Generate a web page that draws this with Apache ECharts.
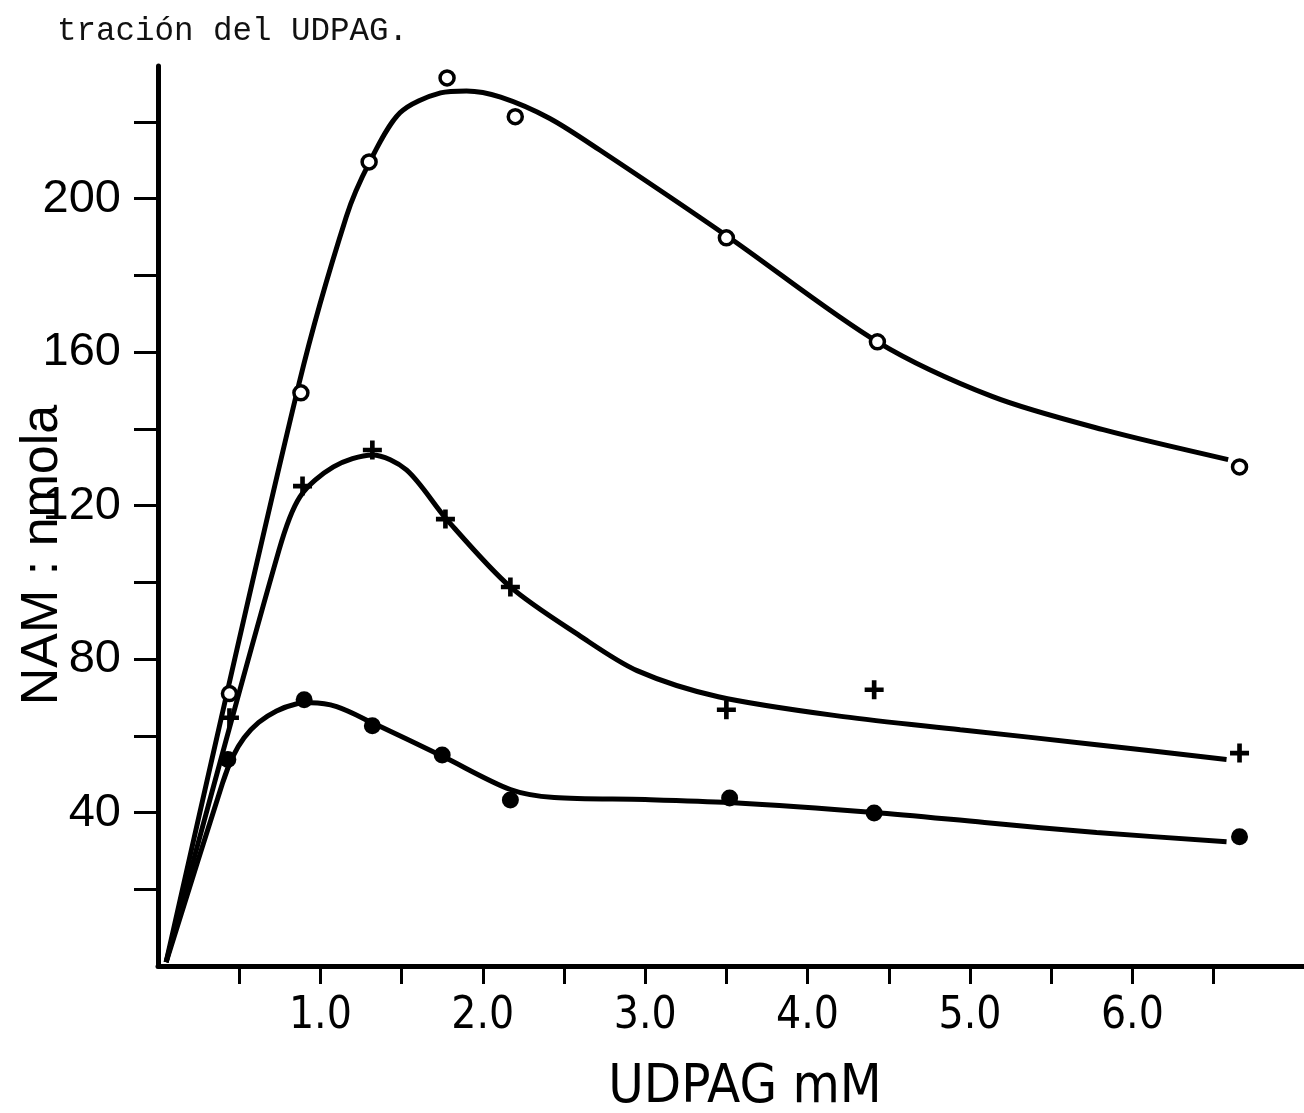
<!DOCTYPE html>
<html>
<head>
<meta charset="utf-8">
<script src="https://cdn.jsdelivr.net/npm/echarts@6/dist/echarts.min.js"></script>
<style>
html,body{margin:0;padding:0;background:#fff;}
#c{width:1304px;height:1113px;}
</style>
</head>
<body>
<div id="c"></div>
<script>
// ---- data ----
const headerText = 'tración del UDPAG.';
const xTitle = 'UDPAG mM';
const yTitle = 'NAM : nmola';
const xTickValues = [0.5, 1, 1.5, 2, 2.5, 3, 3.5, 4, 4.5, 5, 5.5, 6, 6.5];
const xLabelValues = [1, 2, 3, 4, 5, 6];
const yTickValues = [20, 40, 60, 80, 100, 120, 140, 160, 180, 200, 220];
const yLabelValues = [40, 80, 120, 160, 200];

// measured points
const openX = [0.44, 0.88, 1.30, 1.78, 2.20, 3.50, 4.43, 6.66];
const openY = [71.0, 149.4, 209.6, 231.5, 221.4, 189.8, 162.7, 130.1];
const plusX = [0.44, 0.89, 1.32, 1.77, 2.17, 3.50, 4.41, 6.66];
const plusY = [64.7, 125.1, 134.5, 116.5, 98.8, 66.8, 72.0, 55.5];
const dotX  = [0.43, 0.90, 1.32, 1.75, 2.17, 3.52, 4.41, 6.66];
const dotY  = [53.8, 69.4, 62.6, 55.0, 43.3, 43.8, 39.9, 33.7];

// fitted (hand-drawn) curves, read along their path
const topCurveX = [0.05, 0.87, 1.16, 1.30, 1.49, 1.74, 1.90, 2.11, 2.41, 2.72, 3.51, 4.43, 5.14, 5.82, 6.59];
const topCurveY = [1, 152.1, 195.4, 209.3, 222.4, 227.6, 228.1, 226.5, 221.0, 212.7, 190.1, 162.7, 148.4, 139.8, 132.0];
const plusCurveX = [0.05, 0.745, 0.874, 1.08, 1.32, 1.53, 1.78, 2.17, 2.60, 2.95, 3.45, 4.22, 4.94, 5.78, 6.58];
const plusCurveY = [1, 108.4, 122.3, 130.1, 133.2, 129.3, 116.3, 98.8, 86.0, 77.0, 70.2, 65.0, 61.6, 57.7, 53.8];
const dotCurveX = [0.05, 0.40, 0.46, 0.53, 0.62, 0.73, 0.85, 0.94, 1.10, 1.32, 1.755, 2.17, 2.44, 3.00, 3.52, 4.41, 5.09, 5.78, 6.58];
const dotCurveY = [1, 48.0, 54.5, 59.5, 63.5, 66.5, 68.3, 68.6, 67.6, 63.4, 54.6, 46.0, 43.9, 43.4, 42.6, 40.0, 37.4, 34.8, 32.4];

function pairs(xs, ys) { return xs.map((x, i) => [x, ys[i]]); }

const PLUS = 'path://M-2.2,-9 H2.2 V-2.2 H9 V2.2 H2.2 V9 H-2.2 V2.2 H-9 V-2.2 H-2.2 Z';
const lineStyle = { color: '#000', width: 5 };
const condFont = '"DejaVu Sans Condensed", "Liberation Sans Narrow", "DejaVu Sans", sans-serif';

const chart = echarts.init(document.getElementById('c'), null, { renderer: 'canvas' });
chart.setOption({
  backgroundColor: '#fff',
  animation: false,
  graphic: [{
    type: 'text', left: 57, top: 15,
    style: { text: headerText, font: '32.5px "Liberation Mono", "DejaVu Sans Mono", monospace', fill: '#111' }
  }],
  grid: { left: 158, right: 0, top: 66, bottom: 147, containLabel: false, outerBoundsMode: 'none' },
  xAxis: {
    type: 'value', min: 0, max: 7.057,
    name: xTitle, nameLocation: 'middle', nameGap: 95, nameMoveOverlap: false,
    nameTextStyle: { fontFamily: condFont, fontSize: 54, color: '#000', padding: [0, 0, 0, 28] },
    axisLine: { show: true, onZero: false, lineStyle: { color: '#000', width: 5 } },
    axisTick: { show: true, length: 18, customValues: xTickValues, lineStyle: { color: '#000', width: 3 } },
    axisLabel: { customValues: xLabelValues, margin: 29, formatter: v => v.toFixed(1),
      fontFamily: condFont, fontSize: 44, color: '#000' },
    splitLine: { show: false }
  },
  yAxis: {
    type: 'value', min: 0, max: 234.6,
    name: yTitle, nameLocation: 'middle', nameGap: 89, nameMoveOverlap: false,
    nameTextStyle: { fontFamily: '"Liberation Sans", Arial, sans-serif', fontSize: 52, color: '#000', padding: [0, 78, 0, 0] },
    axisLine: { show: true, onZero: false, lineStyle: { color: '#000', width: 5 } },
    axisTick: { show: true, length: 24, customValues: yTickValues, lineStyle: { color: '#000', width: 3 } },
    axisLabel: { customValues: yLabelValues, margin: 37,
      fontFamily: '"Liberation Sans", Arial, sans-serif', fontSize: 47, color: '#000' },
    splitLine: { show: false }
  },
  series: [
    { type: 'line', data: pairs(topCurveX, topCurveY), smooth: 0.3, showSymbol: false, lineStyle, z: 2 },
    { type: 'line', data: pairs(plusCurveX, plusCurveY), smooth: 0.3, showSymbol: false, lineStyle, z: 2 },
    { type: 'line', data: pairs(dotCurveX, dotCurveY), smooth: 0.3, showSymbol: false, lineStyle, z: 2 },
    { type: 'scatter', data: pairs(openX, openY), symbol: 'circle', symbolSize: 14,
      itemStyle: { color: '#fff', borderColor: '#000', borderWidth: 3.5, opacity: 1 }, z: 3 },
    { type: 'scatter', data: pairs(plusX, plusY), symbol: PLUS, symbolSize: 19,
      itemStyle: { color: '#000', opacity: 1 }, z: 3 },
    { type: 'scatter', data: pairs(dotX, dotY), symbol: 'circle', symbolSize: 17,
      itemStyle: { color: '#000', opacity: 1 }, z: 3 }
  ]
});
</script>
</body>
</html>
